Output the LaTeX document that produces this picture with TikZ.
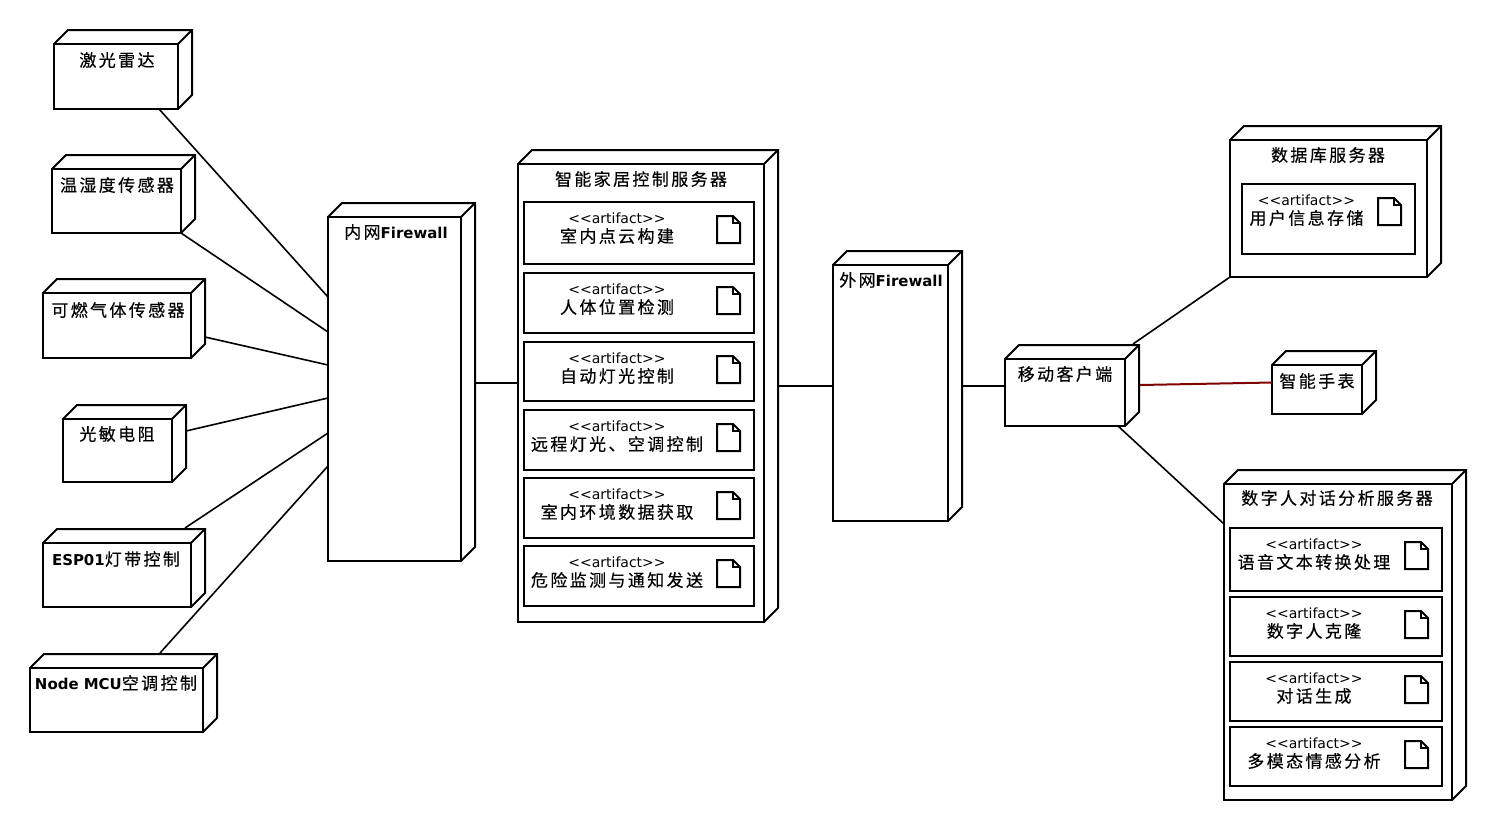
\documentclass[tikz,border=0pt]{standalone}
\usepackage{fontspec}
\usetikzlibrary{positioning}
\newfontfamily\cjk[LetterSpace=14,FakeBold=0.35]{Noto Sans CJK SC}
\newfontfamily\latinbold[Scale=0.88]{DejaVu Sans Bold}
\newfontfamily\latinthin{DejaVu Sans}
\tikzset{
  devbox/.style={draw=black,line width=2pt,fill=white,inner sep=0pt,outer sep=0pt,line join=miter},
  devline/.style={draw=black,line width=2pt,line join=miter},
  artbox/.style={draw=black,line width=2pt,fill=white,inner sep=0pt,outer sep=0pt},
  cntext/.style={inner sep=0pt,font=\fontsize{17}{18}\cjk},
  sttext/.style={inner sep=0pt,font=\fontsize{14}{16}\latinthin},
  link/.style={draw=black,line width=1.6pt},
}
% device: name, x1, y1, x2, y2
\newcommand{\devicenode}[5]{
  \node[devbox,minimum width={(#4-#2)*1pt},minimum height={(#5-#3)*1pt}] (#1) at ({(#2+#4)/2},{(#3+#5)/2}) {};
  \draw[devline] (#1.north west) -- ++(14,-14) -- ([shift={(14,-14)}]#1.north east) -- ([shift={(14,-14)}]#1.south east) -- (#1.south east);
  \draw[devline] (#1.north east) -- ++(14,-14);
}
% artifact: name, x1, y1, x2, y2, text
\newcommand{\artifactnode}[6]{
  \node[artbox,minimum width={(#4-#2)*1pt},minimum height={(#5-#3)*1pt}] (#1) at ({(#2+#4)/2},{(#3+#5)/2}) {};
  \node[sttext] (#1-st) at ([shift={(-22,16)}]#1.north) {<<artifact>>};
  \node[cntext] (#1-text) at ([shift={(-22,34)}]#1.north) {#6};
  \draw[line width=2pt,line join=miter] ([shift={(-37,14)}]#1.north east) -- ++(16,0) -- ++(7,7) -- ++(0,20) -- ++(-23,0) -- cycle;
  \draw[line width=1.4pt] ([shift={(-21,14)}]#1.north east) -- ++(0,7) -- ++(7,0);
}
\begin{document}
\begin{tikzpicture}[x=1pt,y=-1pt]
\useasboundingbox (0,0) rectangle (1497,831);
% Left devices
\devicenode{lidar}{54}{44}{178}{109}
\node[cntext] (lidar-text) at (117,60) {激光雷达};
\devicenode{humid}{52}{169}{181}{233}
\node[cntext] (humid-text) at (117,185) {温湿度传感器};
\devicenode{gas}{43}{293}{191}{358}
\node[cntext] (gas-text) at (118,310) {可燃气体传感器};
\devicenode{photo}{63}{419}{172}{482}
\node[cntext] (photo-text) at (117,434) {光敏电阻};
\devicenode{esp}{43}{543}{191}{607}
\node[cntext] (esp-text) at (116,559) {{\latinbold ESP01}灯带控制};
\devicenode{mcu}{30}{668}{203}{732}
\node[cntext] (mcu-text) at (116,683) {{\latinbold Node MCU}空调控制};
% Firewalls
\devicenode{fwin}{328}{217}{461}{561}
\node[cntext] (fwin-text) at (396,232) {内网{\latinbold Firewall}};
\devicenode{fwout}{833}{265}{948}{521}
\node[cntext] (fwout-text) at (891,280) {外网{\latinbold Firewall}};
% Control server
\devicenode{server}{518}{164}{764}{622}
\node[cntext] (server-text) at (641,179) {智能家居控制服务器};
\artifactnode{pointcloud}{524}{202}{754}{264}{室内点云构建}
\artifactnode{position}{524}{273}{754}{333}{人体位置检测}
\artifactnode{autolight}{524}{342}{754}{401}{自动灯光控制}
\artifactnode{remote}{524}{410}{754}{470}{远程灯光、空调控制}
\artifactnode{envdata}{524}{478}{754}{538}{室内环境数据获取}
\artifactnode{danger}{524}{546}{754}{606}{危险监测与通知发送}
% Mobile side
\devicenode{mobile}{1005}{359}{1125}{426}
\node[cntext] (mobile-text) at (1065,374) {移动客户端};
\devicenode{watch}{1272}{365}{1362}{414}
\node[cntext] (watch-text) at (1317,381) {智能手表};
% Database server
\devicenode{db}{1230}{140}{1427}{277}
\node[cntext] (db-text) at (1328,155) {数据库服务器};
\artifactnode{userinfo}{1242}{184}{1415}{254}{用户信息存储}
% Digital human server
\devicenode{human}{1224}{484}{1452}{800}
\node[cntext] (human-text) at (1337,498) {数字人对话分析服务器};
\artifactnode{speech}{1230}{528}{1442}{591}{语音文本转换处理}
\artifactnode{clone}{1230}{597}{1442}{656}{数字人克隆}
\artifactnode{dialog}{1230}{662}{1442}{721}{对话生成}
\artifactnode{emotion}{1230}{727}{1442}{786}{多模态情感分析}
% Links
\draw[link] ([shift={(-19,0)}]lidar.south east) -- ([shift={(0,-92)}]fwin.west);
\draw[link] (humid.south east) -- ([shift={(0,-57)}]fwin.west);
\draw[link] ([shift={(14,11.5)}]gas.east) -- ([shift={(0,-24)}]fwin.west);
\draw[link] ([shift={(14,-19.5)}]photo.east) -- ([shift={(0,9)}]fwin.west);
\draw[link] ([shift={(-6,-15)}]esp.north east) -- ([shift={(0,44)}]fwin.west);
\draw[link] ([shift={(-43,-15)}]mcu.north east) -- ([shift={(0,77)}]fwin.west);
\draw[link] ([shift={(14,-6)}]fwin.east) -- ([shift={(0,-10)}]server.west);
\draw[link] ([shift={(14,-7)}]server.east) -- ([shift={(0,-7)}]fwout.west);
\draw[link] ([shift={(14,-7)}]fwout.east) -- ([shift={(0,-6.5)}]mobile.west);
\draw[link] ([shift={(8,-15)}]mobile.north east) -- (db.south west);
\draw[link,line width=2pt,color={rgb,255:red,128;green,0;blue,0}] ([shift={(15,-7.5)}]mobile.east) -- ([shift={(0,-7)}]watch.west);
\draw[link] ([shift={(-7,0)}]mobile.south east) -- ([shift={(0,-118)}]human.west);
\end{tikzpicture}
\end{document}
